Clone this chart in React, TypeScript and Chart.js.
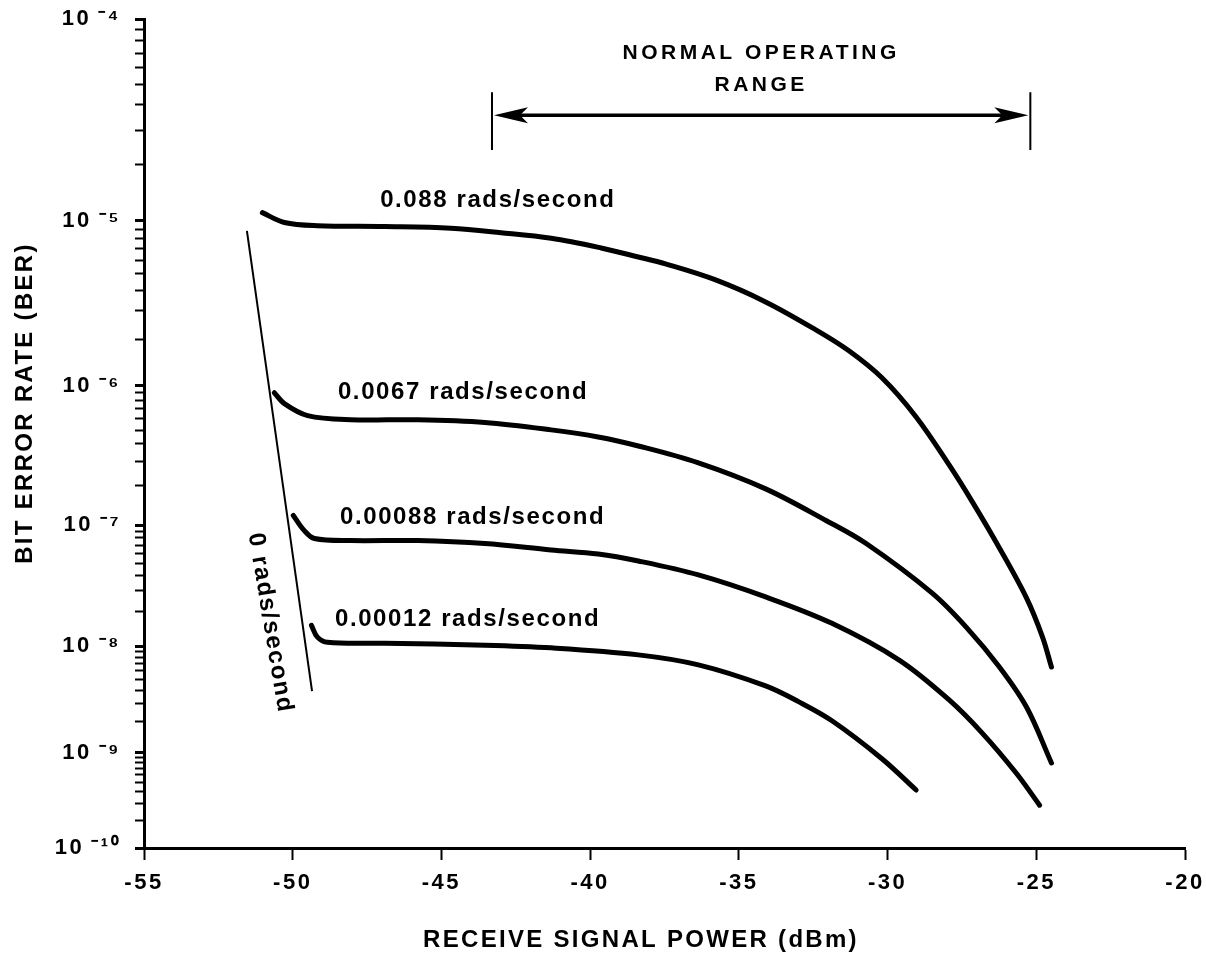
import React, { useEffect, useRef } from 'react';
import { Chart, registerables } from 'chart.js';

Chart.register(...registerables);

// ---------- axes ----------
const X_MIN = -55;
const X_MAX = -20;
const X_STEP = 5;
const DECADE_EXPONENTS = [4, 5, 6, 7, 8, 9, 10];
const MINOR_MANTISSAS = [2, 3, 4, 5, 6, 7, 8, 9];
const X_TITLE = 'RECEIVE SIGNAL POWER (dBm)';
const Y_TITLE = 'BIT ERROR RATE (BER)';

// ---------- series (x in dBm, y as BER) ----------
const SERIES_NAMES = ['0.088 rads/second', '0.0067 rads/second', '0.00088 rads/second', '0.00012 rads/second'];

const X_088 = [-51.02, -50.28, -49.17, -46.91, -44.68, -43.0, -41.31, -39.63, -38.38, -37.47, -35.78, -34.1, -32.41, -31.3, -30.19, -29.04, -27.93, -27.15, -26.24, -25.33, -24.79, -24.49];
const BER_088 = [1.11e-5, 9.8e-6, 9.4e-6, 9.3e-6, 9.1e-6, 8.6e-6, 8.0e-6, 7.05e-6, 6.26e-6, 5.71e-6, 4.6e-6, 3.4e-6, 2.29e-6, 1.69e-6, 1.13e-6, 6.17e-7, 2.83e-7, 1.51e-7, 6.64e-8, 2.6e-8, 1.2e-8, 6.5e-9];

const X_0067 = [-50.62, -50.28, -49.5, -48.05, -45.8, -43.54, -41.31, -39.73, -38.38, -36.36, -34.1, -32.07, -30.72, -28.5, -27.35, -26.24, -25.33, -24.49];
const BER_0067 = [9.0e-7, 7.6e-7, 6.3e-7, 5.9e-7, 5.9e-7, 5.65e-7, 5.02e-7, 4.48e-7, 3.87e-7, 2.93e-7, 1.89e-7, 1.09e-7, 7.2e-8, 2.85e-8, 1.46e-8, 6.5e-9, 2.77e-9, 7.9e-10];

const X_00088 = [-49.98, -49.61, -49.27, -48.05, -45.8, -43.54, -41.31, -39.73, -38.38, -36.36, -34.1, -31.87, -29.61, -27.93, -26.81, -25.67, -24.89];
const BER_00088 = [1.19e-7, 9.1e-8, 7.9e-8, 7.6e-8, 7.6e-8, 7.2e-8, 6.4e-8, 5.95e-8, 5.23e-8, 4.03e-8, 2.65e-8, 1.58e-8, 7.5e-9, 3.23e-9, 1.55e-9, 6.2e-10, 2.9e-10];

const X_00012 = [-49.37, -49.17, -48.83, -46.91, -43.54, -41.31, -38.38, -36.36, -34.1, -32.98, -31.87, -30.19, -29.04];
const BER_00012 = [1.52e-8, 1.2e-8, 1.08e-8, 1.06e-8, 1.02e-8, 9.65e-9, 8.36e-9, 6.8e-9, 4.37e-9, 3.1e-9, 2.05e-9, 8.7e-10, 4.18e-10];

const ZERO_NAME = '0 rads/second';
const X_ZERO = [-51.54, -49.35];
const BER_ZERO = [8.8e-6, 3.9e-9];

// ---------- annotations (data coordinates) ----------
const LABEL_X = [-47.06, -48.48, -48.41, -48.58];
const LABEL_BER = [1.3e-5, 9.1e-7, 1.16e-7, 1.72e-8];
const ZERO_LABEL_X = -50.76;
const ZERO_LABEL_BER = 1.59e-8;
const RANGE_TEXT = ['NORMAL OPERATING', 'RANGE'];
const RANGE_START = -43.3;
const RANGE_END = -25.2;
const RANGE_BER = 3.56e-5;
const RANGE_BAR_BER = [4.6e-5, 2.38e-5];

// ---------- helpers ----------
const depth = (ber: number) => -Math.log10(ber);
const SUP: Record<string, string> = { '0': '\u2070', '1': '\u00B9', '2': '\u00B2', '3': '\u00B3', '4': '\u2074', '5': '\u2075', '6': '\u2076', '7': '\u2077', '8': '\u2078', '9': '\u2079', '-': '\u207B' };
const supText = (s: string) => s.split('').map((c) => SUP[c] || c).join('');

const Y_TICKS: number[] = [];
DECADE_EXPONENTS.forEach((k, i) => {
  Y_TICKS.push(k);
  if (i < DECADE_EXPONENTS.length - 1) {
    MINOR_MANTISSAS.forEach((m) => Y_TICKS.push(k + 1 - Math.log10(m)));
  }
});
const isMajor = (v: number) => DECADE_EXPONENTS.some((k) => Math.abs(k - v) < 1e-9);

const FONT = '"Liberation Sans", Arial, Helvetica, sans-serif';

const annotationPlugin = {
  id: 'berAnnotations',
  beforeDraw(chart: any) {
    chart.ctx.letterSpacing = '2.5px';
  },
  afterDatasetsDraw(chart: any) {
    const { ctx } = chart;
    const xs = chart.scales.x;
    const ys = chart.scales.y;
    ctx.save();
    ctx.fillStyle = '#000';
    ctx.strokeStyle = '#000';

    // curve labels
    ctx.letterSpacing = '1.6px';
    ctx.font = `bold 24px ${FONT}`;
    ctx.textAlign = 'left';
    ctx.textBaseline = 'middle';
    SERIES_NAMES.forEach((t, i) => {
      ctx.fillText(t, xs.getPixelForValue(LABEL_X[i]), ys.getPixelForValue(depth(LABEL_BER[i])));
    });

    // rotated zero label
    ctx.save();
    ctx.translate(xs.getPixelForValue(ZERO_LABEL_X), ys.getPixelForValue(depth(ZERO_LABEL_BER)));
    ctx.rotate((80.5 * Math.PI) / 180);
    ctx.textAlign = 'center';
    ctx.fillText(ZERO_NAME, 0, 0);
    ctx.restore();

    // normal operating range arrow
    const x0 = xs.getPixelForValue(RANGE_START);
    const x1 = xs.getPixelForValue(RANGE_END);
    const ya = ys.getPixelForValue(depth(RANGE_BER));
    const yb0 = ys.getPixelForValue(depth(RANGE_BAR_BER[0]));
    const yb1 = ys.getPixelForValue(depth(RANGE_BAR_BER[1]));
    ctx.lineWidth = 2;
    ctx.beginPath();
    ctx.moveTo(x0, yb0);
    ctx.lineTo(x0, yb1);
    ctx.moveTo(x1, yb0);
    ctx.lineTo(x1, yb1);
    ctx.stroke();
    ctx.lineWidth = 3.5;
    ctx.beginPath();
    ctx.moveTo(x0 + 20, ya);
    ctx.lineTo(x1 - 20, ya);
    ctx.stroke();
    const head = (tip: number, dir: number) => {
      ctx.beginPath();
      ctx.moveTo(tip, ya);
      ctx.lineTo(tip + dir * 34, ya - 8);
      ctx.lineTo(tip + dir * 26, ya);
      ctx.lineTo(tip + dir * 34, ya + 8);
      ctx.closePath();
      ctx.fill();
    };
    head(x0 + 2, 1);
    head(x1 - 2, -1);

    ctx.letterSpacing = '3.5px';
    ctx.font = `bold 21px ${FONT}`;
    ctx.textAlign = 'center';
    const cx = (x0 + x1) / 2;
    ctx.fillText(RANGE_TEXT[0], cx, ya - 62);
    ctx.fillText(RANGE_TEXT[1], cx, ya - 30);

    // axis titles
    ctx.letterSpacing = '2.3px';
    ctx.font = `bold 24px ${FONT}`;
    ctx.fillText(X_TITLE, 641, 940);
    ctx.save();
    ctx.translate(25, 403);
    ctx.rotate(-Math.PI / 2);
    ctx.fillText(Y_TITLE, 0, 0);
    ctx.restore();

    ctx.restore();
  },
};

const makeSeries = (xv: number[], bv: number[]) => xv.map((x, i) => ({ x, y: depth(bv[i]) }));

export default function App() {
  const ref = useRef<HTMLCanvasElement | null>(null);

  useEffect(() => {
    if (!ref.current) return;
    const curve = (label: string, xv: number[], bv: number[]) => ({
      label,
      data: makeSeries(xv, bv),
      borderColor: '#000',
      backgroundColor: '#000',
      borderWidth: 5,
      pointRadius: 0,
      tension: 0.35,
      borderCapStyle: 'round' as const,
      borderJoinStyle: 'round' as const,
      fill: false,
    });
    const chart = new Chart(ref.current, {
      type: 'line',
      data: {
        datasets: [
          curve(SERIES_NAMES[0], X_088, BER_088),
          curve(SERIES_NAMES[1], X_0067, BER_0067),
          curve(SERIES_NAMES[2], X_00088, BER_00088),
          curve(SERIES_NAMES[3], X_00012, BER_00012),
          {
            label: ZERO_NAME,
            data: makeSeries(X_ZERO, BER_ZERO),
            borderColor: '#000',
            borderWidth: 2,
            pointRadius: 0,
            tension: 0,
            fill: false,
          },
        ],
      },
      options: {
        responsive: false,
        animation: false,
        devicePixelRatio: 1,
        layout: { padding: { top: 19, right: 21, left: 0, bottom: 0 } },
        plugins: { legend: { display: false }, tooltip: { enabled: false } },
        scales: {
          x: {
            type: 'linear',
            position: 'bottom',
            min: X_MIN,
            max: X_MAX,
            ticks: { stepSize: X_STEP, color: '#000', font: { family: FONT, size: 22, weight: 'bold' }, padding: 10 },
            grid: { drawOnChartArea: false, drawTicks: true, tickLength: 12, tickWidth: 2, tickColor: '#000' },
            border: { display: true, color: '#000', width: 3 },
            afterFit: (s: any) => {
              s.height = 113;
              s.paddingLeft = 0;
              s.paddingRight = 0;
            },
          },
          y: {
            type: 'logarithmic',
            position: 'left',
            min: DECADE_EXPONENTS[0],
            max: DECADE_EXPONENTS[DECADE_EXPONENTS.length - 1],
            reverse: true,
            afterBuildTicks: (s: any) => {
              s.ticks = Y_TICKS.map((v) => ({ value: v, major: isMajor(v) }));
            },
            ticks: {
              autoSkip: false,
              color: '#000',
              font: { family: FONT, size: 22, weight: 'bold' },
              padding: 14,
              callback: (v: any) => (isMajor(Number(v)) ? '10\u2009' + supText('-' + Math.round(Number(v))) : ''),
            },
            grid: {
              drawOnChartArea: false,
              drawTicks: true,
              tickLength: 9,
              tickWidth: (c: any) => (c.tick && c.tick.major ? 3 : 2),
              tickColor: '#000',
            },
            border: { display: true, color: '#000', width: 3 },
            afterFit: (s: any) => {
              s.width = 144;
              s.paddingTop = 0;
              s.paddingBottom = 0;
            },
          },
        },
      } as any,
      plugins: [annotationPlugin],
    });
    return () => chart.destroy();
  }, []);

  return (
    <div style={{ position: 'absolute', left: 0, top: 0, width: 1206, height: 961, background: '#fff' }}>
      <canvas ref={ref} width={1206} height={961} style={{ display: 'block' }} />
    </div>
  );
}
